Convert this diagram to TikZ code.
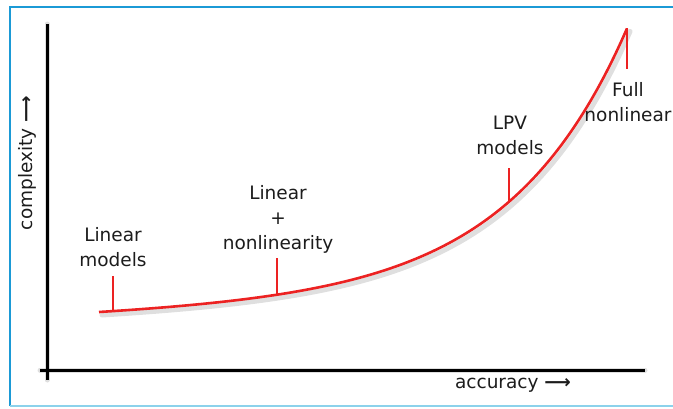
\documentclass[tikz,border=0pt]{standalone}
\usepackage{fontspec}
\setmainfont{DejaVu Sans}
\usetikzlibrary{positioning}
\definecolor{framblue}{RGB}{27,154,214}
\definecolor{framcyan}{RGB}{140,210,235}
\definecolor{curvered}{RGB}{236,34,34}
\definecolor{inkgray}{RGB}{28,28,28}
\tikzset{
	axisline/.style={draw=black, line width=3pt},
	curveline/.style={draw=curvered, line width=2.6pt},
	tickline/.style={draw=curvered, line width=2.2pt},
	shadowline/.style={draw=black!50, opacity=.25, line width=5pt, line cap=round},
	lbl/.style={
		text=inkgray,
		align=center,
		inner sep=0pt,
		font=\fontsize{18.5}{25}\selectfont},
	declare function={cost(\u)=312-0.0376*(\u-99)-3.0*(exp(0.0085*(\u-99))-1);},
}
\newcommand{\longarr}{{\bfseries ⟶}}

\begin{document}
\begin{tikzpicture}[x=1pt,y=-1pt]
		\useasboundingbox (0,0) rectangle (673,408);
		% frame
		\draw[framblue, line width=2pt] (10,406) -- (10,7) -- (690,7);
		\draw[framcyan, line width=2pt] (10,405.5) -- (690,405.5);
		% axes
		\coordinate (ytop) at (47,24);
		\coordinate (ybot) at (47,380);
		\coordinate (xlft) at (40,370);
		\coordinate (xrgt) at (645,370);
		\begin{scope}[xshift=3pt, yshift=-3pt]
		\draw[shadowline] (ytop) -- (ybot);
		\draw[shadowline] (xlft) -- (xrgt);
		\draw[shadowline] plot[domain=99:627, samples=90, smooth] (\x, {cost(\x)});
		\end{scope}
		\draw[axisline] (ytop) -- (ybot);
		\draw[axisline] (xlft) -- (xrgt);
		% curve
		\draw[curveline] plot[domain=99:627, samples=90, smooth] (\x, {cost(\x)});
		% labels
		\node[lbl] (linmod) at (113,247) {Linear\\models};
		\node[lbl] (linnl) at (278,219) {Linear\\+\\nonlinearity};
		\node[lbl] (lpv) at (510,135) {LPV\\models};
		\node[lbl] (fullnl) at (628,102) {Full\\nonlinear};
		\node[lbl] (acc) at (513,385) {accuracy \longarr};
		\node[lbl, rotate=90] (cplx) at (27,163) {complexity \longarr};
		% ticks
		\coordinate (linmod-c) at (113,{cost(113)});
		\coordinate (linmod-t) at (113,276);
		\coordinate (linnl-c) at (277,{cost(277)});
		\coordinate (linnl-t) at (277,258);
		\coordinate (lpv-c) at (509,{cost(509)});
		\coordinate (lpv-t) at (509,168);
		\coordinate (fullnl-c) at (627,{cost(627)});
		\coordinate (fullnl-t) at (627,69);
		\draw[tickline] (linmod-c) -- (linmod-t);
		\draw[tickline] (linnl-c) -- (linnl-t);
		\draw[tickline] (lpv-c) -- (lpv-t);
		\draw[tickline] (fullnl-c) -- (fullnl-t);
\end{tikzpicture}
\end{document}
